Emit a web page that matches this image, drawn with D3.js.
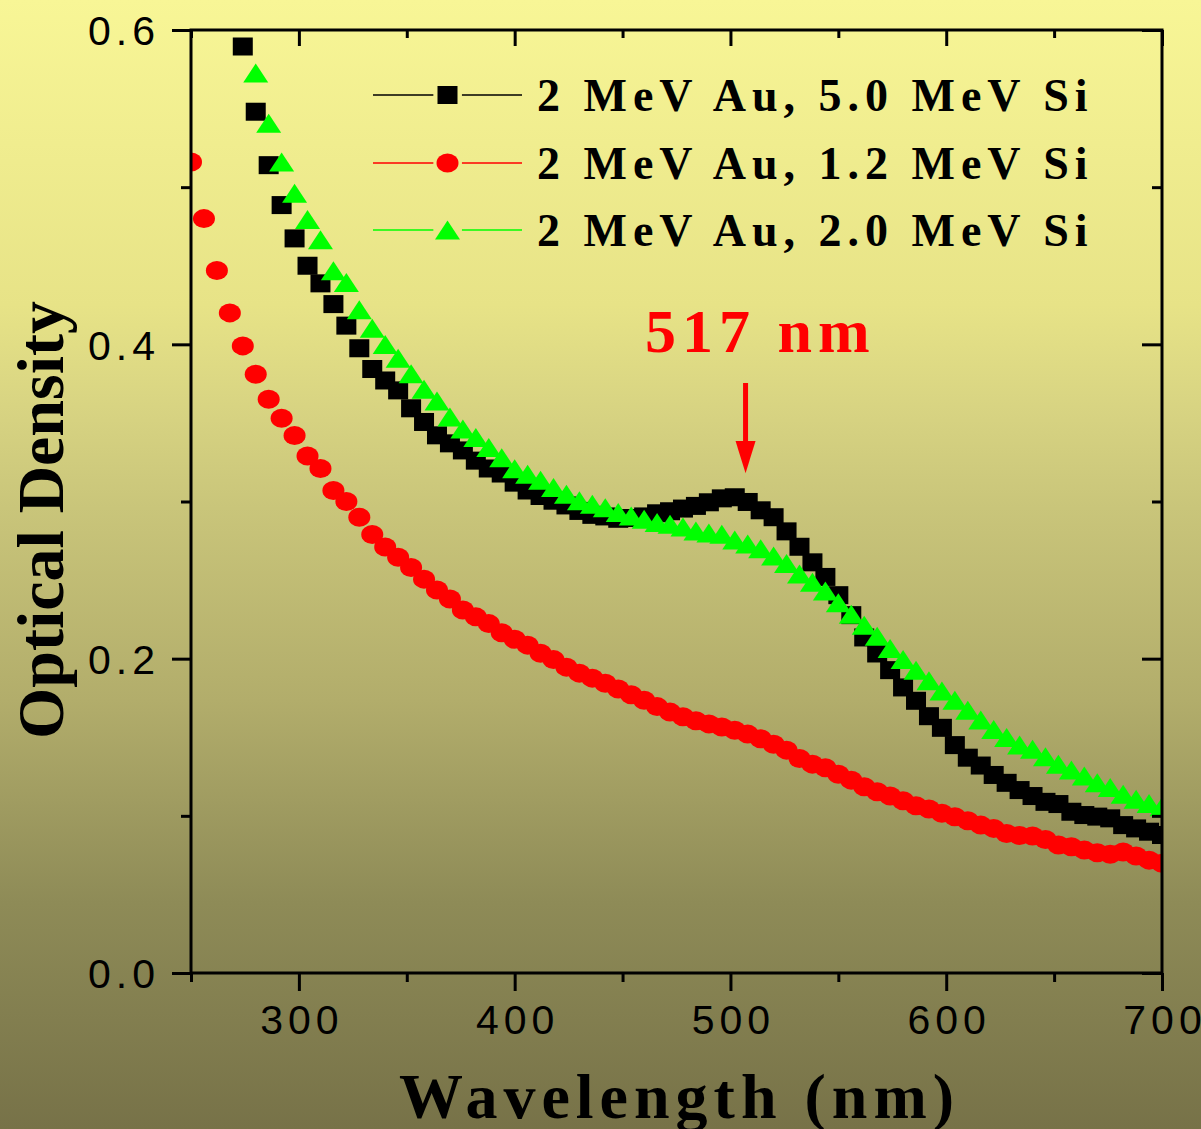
<!DOCTYPE html>
<html>
<head>
<meta charset="utf-8">
<title>Optical Density vs Wavelength</title>
<script src="https://d3js.org/d3.v7.min.js"></script>
<style>
  body { margin: 0; }
  svg { display: block; }
  .lbl { font-family: "Liberation Sans", Arial, sans-serif; font-size: 41px; letter-spacing: 5px; fill: #000; }
  .serif { font-family: "Liberation Serif", "Times New Roman", serif; font-weight: bold; }
</style>
</head>
<body>
<svg width="1201" height="1129"></svg>
<script>
// sampling grid (nm)
const wavelengths = [250,256,262,268,274,280,286,292,298,304,310,316,322,328,334,340,346,352,358,364,
  370,376,382,388,394,400,406,412,418,424,430,436,442,448,454,460,466,472,478,484,
  490,496,502,508,514,520,526,532,538,544,550,556,562,568,574,580,586,592,598,604,
  610,616,622,628,634,640,646,652,658,664,670,676,682,688,694,700];

// 2 MeV Au, 5.0 MeV Si (starts at 274 nm)
const odSi50 = [0.5895,0.548,0.514,0.4886,0.4674,0.450,0.4388,0.4256,0.4119,0.3975,0.3843,0.377,0.3707,0.3593,0.3506,0.3421,
  0.337,0.3325,0.326,0.321,0.3178,0.312,0.307,0.3035,0.3005,0.2975,0.294,0.2915,0.2905,0.289,0.2895,0.2905,
  0.2925,0.2938,0.2955,0.2972,0.2995,0.302,0.3027,0.2997,0.2944,0.290,0.281,0.2712,0.2613,0.252,0.2404,0.2277,
  0.2135,0.2033,0.1927,0.1817,0.1732,0.1634,0.156,0.145,0.137,0.132,0.126,0.121,0.1164,0.1126,0.1089,0.1075,
  0.1026,0.1005,0.0995,0.0984,0.0941,0.092,0.0899,0.0878];

// 2 MeV Au, 1.2 MeV Si (starts at 250 nm)
const odSi12 = [0.516,0.480,0.447,0.420,0.399,0.381,0.365,0.353,0.342,0.329,0.321,0.307,0.300,0.290,0.279,0.271,
  0.2645,0.258,0.2506,0.2437,0.238,0.231,0.2266,0.2223,0.2165,0.2123,0.2086,0.2035,0.1994,0.1946,0.1908,0.1876,
  0.1844,0.1807,0.177,0.1735,0.1695,0.166,0.163,0.1605,0.1585,0.1565,0.1545,0.152,0.149,0.1455,0.1418,0.1365,
  0.1329,0.1306,0.1265,0.1227,0.1185,0.1153,0.1126,0.1096,0.1064,0.1043,0.1016,0.0994,0.0969,0.0941,0.092,0.0888,
  0.0875,0.0872,0.085,0.0814,0.0803,0.0782,0.0765,0.0755,0.077,0.0745,0.0718,0.0698];

// 2 MeV Au, 2.0 MeV Si (starts at 280 nm)
const odSi20 = [0.5727,0.5407,0.516,0.4962,0.4795,0.4665,0.4468,0.4393,0.422,0.4102,0.3999,0.3912,0.3813,0.3715,0.3639,
  0.3538,0.3462,0.3407,0.3343,0.3279,0.3209,0.3173,0.3135,0.3089,0.3046,0.3004,0.2982,0.2961,0.293,0.2908,0.2887,
  0.2866,0.2855,0.2838,0.2813,0.280,0.2792,0.2755,0.273,0.270,0.2653,0.2606,0.2538,0.2487,0.2431,0.2355,0.2283,
  0.2213,0.2143,0.2065,0.1995,0.1927,0.1859,0.1795,0.1736,0.1672,0.1609,0.155,0.1499,0.145,0.1423,0.1376,0.1329,
  0.1291,0.1253,0.121,0.1181,0.1138,0.1105,0.1079,0.1058];

const seriesNames = ["2 MeV Au, 5.0 MeV Si", "2 MeV Au, 1.2 MeV Si", "2 MeV Au, 2.0 MeV Si"];
const xMajor = [300, 400, 500, 600, 700];
const xMinor = [250, 350, 450, 550, 650];
const yMajor = [0.0, 0.2, 0.4, 0.6];
const yMinor = [0.1, 0.3, 0.5];
const peakLabel = "517 nm";

const width = 1201, height = 1129;
const L = 191, R = 1162, T = 30, B = 973;

const svg = d3.select("svg");

// background gradient
const defs = svg.append("defs");
const grad = defs.append("linearGradient").attr("id", "bg")
    .attr("x1", 0).attr("y1", 0).attr("x2", 0).attr("y2", 1);
[[0, "#f8f696"], [0.27, "#e7e387"], [0.36, "#d8d482"], [0.45, "#c9c57a"],
 [0.62, "#b2ad6b"], [0.8, "#8e8b57"], [1, "#777248"]].forEach(s =>
    grad.append("stop").attr("offset", s[0]).attr("stop-color", s[1]));
svg.append("rect").attr("width", width).attr("height", height).attr("fill", "url(#bg)");

defs.append("clipPath").attr("id", "plot")
    .append("rect").attr("x", L).attr("y", T).attr("width", R - L).attr("height", B - T);

const x = d3.scaleLinear().domain([250, 700]).range([L, R]);
const y = d3.scaleLinear().domain([0, 0.6]).range([B, T]);

// marker drawers
function squares(g, xs, vs, cx, cy) {
    g.selectAll("rect.m").data(vs).join("rect").attr("class", "m")
        .attr("x", (d, i) => cx(xs[i]) - 10).attr("y", d => cy(d) - 9)
        .attr("width", 20).attr("height", 18).attr("fill", "#000");
}
function circles(g, xs, vs, cx, cy) {
    g.selectAll("ellipse.m").data(vs).join("ellipse").attr("class", "m")
        .attr("cx", (d, i) => cx(xs[i])).attr("cy", d => cy(d))
        .attr("rx", 11).attr("ry", 9.5).attr("fill", "#ff0000");
}
function triangles(g, xs, vs, cx, cy) {
    g.selectAll("path.m").data(vs).join("path").attr("class", "m")
        .attr("d", (d, i) => {
            const px = cx(xs[i]), py = cy(d);
            return `M${px},${py - 9.5}L${px + 12.5},${py + 9.5}L${px - 12.5},${py + 9.5}Z`;
        })
        .attr("fill", "#00ff00");
}

const plot = svg.append("g").attr("clip-path", "url(#plot)");
squares(plot.append("g"), wavelengths.slice(4), odSi50, x, y);
circles(plot.append("g"), wavelengths, odSi12, x, y);
triangles(plot.append("g"), wavelengths.slice(5), odSi20, x, y);

// axes
function styleAxis(g) {
    g.select(".domain").remove();
    g.selectAll(".tick line").attr("stroke", "#000").attr("stroke-width", 3);
    g.selectAll(".tick text").attr("class", "lbl").attr("font-size", null).attr("font-family", null);
}
const axB = svg.append("g").attr("transform", `translate(0,${B})`)
    .call(d3.axisBottom(x).tickValues(xMajor).tickSize(18).tickPadding(14).tickFormat(d3.format("d")));
styleAxis(axB);
axB.selectAll(".tick text").attr("dx", 2.5);
styleAxis(svg.append("g").attr("transform", `translate(0,${B})`)
    .call(d3.axisBottom(x).tickValues(xMinor).tickSize(9).tickFormat("")));

const axL = svg.append("g").attr("transform", `translate(${L},0)`)
    .call(d3.axisLeft(y).tickValues(yMajor).tickSize(19).tickPadding(12).tickFormat(d3.format(".1f")));
styleAxis(axL);
axL.selectAll(".tick text").attr("dy", "0.36em");
styleAxis(svg.append("g").attr("transform", `translate(${L},0)`)
    .call(d3.axisLeft(y).tickValues(yMinor).tickSize(10).tickFormat("")));

styleAxis(svg.append("g").attr("transform", `translate(0,${T})`)
    .call(d3.axisTop(x).tickValues(xMajor).tickSize(-16).tickFormat("")));
styleAxis(svg.append("g").attr("transform", `translate(0,${T})`)
    .call(d3.axisTop(x).tickValues(xMinor).tickSize(-8).tickFormat("")));
styleAxis(svg.append("g").attr("transform", `translate(${R},0)`)
    .call(d3.axisRight(y).tickValues(yMajor).tickSize(-20).tickFormat("")));
styleAxis(svg.append("g").attr("transform", `translate(${R},0)`)
    .call(d3.axisRight(y).tickValues(yMinor).tickSize(-10).tickFormat("")));

svg.append("rect").attr("x", L).attr("y", T).attr("width", R - L).attr("height", B - T)
    .attr("fill", "none").attr("stroke", "#000").attr("stroke-width", 3);

// axis titles
svg.append("text").attr("class", "serif")
    .attr("x", (L + R) / 2 + 3).attr("y", 1118).attr("text-anchor", "middle")
    .attr("font-size", 64).attr("letter-spacing", "6px").text("Wavelength (nm)");
svg.append("text").attr("class", "serif")
    .attr("transform", "translate(63,520) rotate(-90)").attr("text-anchor", "middle")
    .attr("font-size", 66).text("Optical Density");

// legend: short line, gap, marker, gap, short line
const legend = svg.append("g");
const legendColors = ["#000", "#ff0000", "#00ff00"];
const rowY = [95, 163, 230];
const lx = d3.scaleLinear().domain([0, 1]).range([373, 522]);
seriesNames.forEach((name, i) => {
    const row = legend.append("g");
    [[0, 0.405], [0.597, 1]].forEach(seg =>
        row.append("line").attr("x1", lx(seg[0])).attr("x2", lx(seg[1]))
            .attr("y1", rowY[i]).attr("y2", rowY[i])
            .attr("stroke", legendColors[i]).attr("stroke-width", 1.5));
    const mk = row.append("g");
    const cy = () => rowY[i];
    if (i === 0) squares(mk, [0.5], [0], lx, cy);
    if (i === 1) circles(mk, [0.5], [0], lx, cy);
    if (i === 2) triangles(mk, [0.5], [0], lx, cy);
    row.append("text").attr("class", "serif").attr("x", 537).attr("y", rowY[i] + 16)
        .attr("font-size", 46).attr("letter-spacing", "6px").text(name);
});

// peak annotation
const arrowX = x(507);
svg.append("text").attr("class", "serif").attr("x", 645).attr("y", 352)
    .attr("font-size", 62).attr("letter-spacing", "6px").attr("fill", "#ff0000").text(peakLabel);
svg.append("line").attr("x1", arrowX).attr("x2", arrowX).attr("y1", 383).attr("y2", 445)
    .attr("stroke", "#ff0000").attr("stroke-width", 5);
svg.append("path")
    .attr("d", `M${arrowX - 10},441L${arrowX + 10},441L${arrowX},${y(0.318)}Z`)
    .attr("fill", "#ff0000");
</script>
</body>
</html>
